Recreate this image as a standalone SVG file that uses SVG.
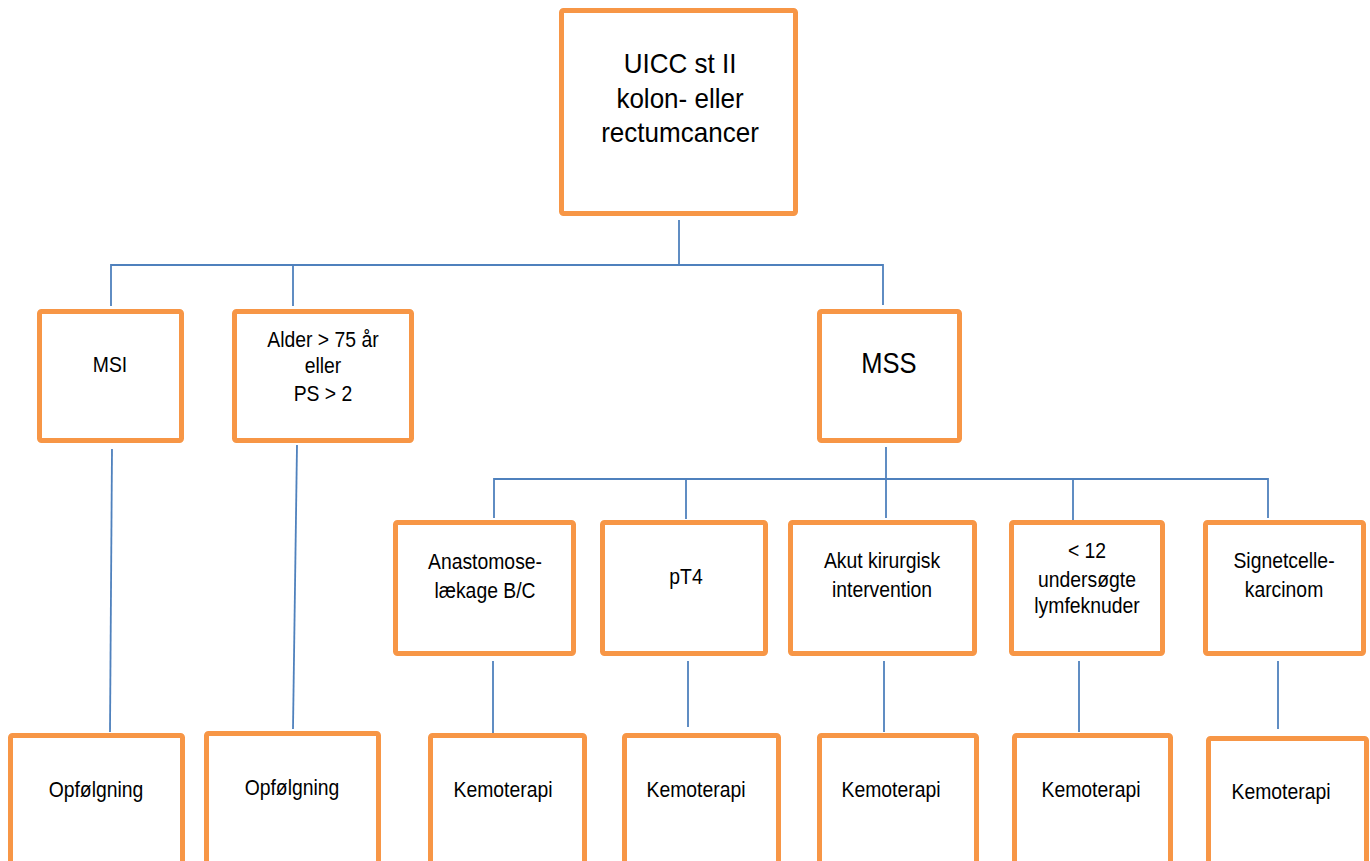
<svg xmlns="http://www.w3.org/2000/svg" width="1370" height="861" viewBox="0 0 1370 861">
<style>
.box{fill:#fff;stroke:#F79646;stroke-width:5;}
.t{font-family:"Liberation Sans",Arial,sans-serif;font-size:22px;fill:#000;text-anchor:middle;}
.big{font-size:28px;}
.c{stroke:#4F81BD;stroke-width:1.8;fill:none;}
</style>
<rect width="1370" height="861" fill="#fff"/>
<g id="connectors">
<line class="c" x1="679" y1="220" x2="679" y2="265"/>
<polyline class="c" points="111,306 111,265 883,265 883,305"/>
<line class="c" x1="293" y1="265" x2="293" y2="306"/>
<line class="c" x1="112" y1="449" x2="110" y2="732"/>
<line class="c" x1="297" y1="445" x2="293" y2="729"/>
<line class="c" x1="886" y1="447" x2="886" y2="518"/>
<polyline class="c" points="494,518 494,479 1268,479 1268,518"/>
<line class="c" x1="686" y1="479" x2="686" y2="519"/>
<line class="c" x1="1073" y1="479" x2="1073" y2="520"/>
<line class="c" x1="493" y1="661" x2="493" y2="733"/>
<line class="c" x1="688" y1="661" x2="688" y2="727"/>
<line class="c" x1="884" y1="661" x2="884" y2="732"/>
<line class="c" x1="1079" y1="661" x2="1079" y2="732"/>
<line class="c" x1="1278" y1="661" x2="1278" y2="729"/>
</g>
<g id="n-top"><rect class="box" x="561.5" y="10.5" width="234" height="203" rx="2"/>
<text class="t big" transform="translate(680 73) scale(0.93 1)">UICC st II</text><text class="t big" transform="translate(680 108) scale(0.93 1)">kolon- eller</text><text class="t big" transform="translate(680 142) scale(0.93 1)">rectumcancer</text></g>
<g id="n-msi"><rect class="box" x="39.5" y="311.5" width="142" height="129" rx="2"/>
<text class="t" transform="translate(110 372) scale(0.88 1)">MSI</text></g>
<g id="n-alder"><rect class="box" x="234.5" y="311.5" width="177" height="129" rx="2"/>
<text class="t" transform="translate(323 347) scale(0.88 1)">Alder &gt; 75 år</text><text class="t" transform="translate(323 373) scale(0.88 1)">eller</text><text class="t" transform="translate(323 401) scale(0.88 1)">PS &gt; 2</text></g>
<g id="n-mss"><rect class="box" x="819.5" y="311.5" width="140" height="129" rx="2"/>
<text class="t big" transform="translate(889 373) scale(0.88 1)" style="font-size:29px">MSS</text></g>
<g id="n-anast"><rect class="box" x="395.5" y="522.5" width="178" height="131" rx="2"/>
<text class="t" transform="translate(485 569) scale(0.88 1)">Anastomose-</text><text class="t" transform="translate(485 598) scale(0.88 1)">lækage B/C</text></g>
<g id="n-pt4"><rect class="box" x="602.5" y="522.5" width="163" height="131" rx="2"/>
<text class="t" transform="translate(686 584) scale(0.88 1)">pT4</text></g>
<g id="n-akut"><rect class="box" x="790.5" y="522.5" width="184" height="131" rx="2"/>
<text class="t" transform="translate(882 568) scale(0.88 1)">Akut kirurgisk</text><text class="t" transform="translate(882 597) scale(0.88 1)">intervention</text></g>
<g id="n-lymf"><rect class="box" x="1011.5" y="522.5" width="151" height="131" rx="2"/>
<text class="t" transform="translate(1087 558) scale(0.88 1)">&lt; 12</text><text class="t" transform="translate(1087 587) scale(0.88 1)">undersøgte</text><text class="t" transform="translate(1087 613) scale(0.88 1)">lymfeknuder</text></g>
<g id="n-signet"><rect class="box" x="1205.5" y="522.5" width="158" height="131" rx="2"/>
<text class="t" transform="translate(1284 568) scale(0.88 1)">Signetcelle-</text><text class="t" transform="translate(1284 597) scale(0.88 1)">karcinom</text></g>
<g id="n-opf1"><rect class="box" x="10.5" y="735.5" width="172" height="140" rx="2"/>
<text class="t" transform="translate(96 797) scale(0.88 1)">Opfølgning</text></g>
<g id="n-opf2"><rect class="box" x="206.5" y="733.5" width="172" height="140" rx="2"/>
<text class="t" transform="translate(292 795) scale(0.88 1)">Opfølgning</text></g>
<g id="n-kemo1"><rect class="box" x="430.5" y="735.5" width="154" height="140" rx="2"/>
<text class="t" transform="translate(503 797) scale(0.88 1)">Kemoterapi</text></g>
<g id="n-kemo2"><rect class="box" x="624.5" y="735.5" width="154" height="140" rx="2"/>
<text class="t" transform="translate(696 797) scale(0.88 1)">Kemoterapi</text></g>
<g id="n-kemo3"><rect class="box" x="819.5" y="735.5" width="157" height="140" rx="2"/>
<text class="t" transform="translate(891 797) scale(0.88 1)">Kemoterapi</text></g>
<g id="n-kemo4"><rect class="box" x="1014.5" y="735.5" width="156" height="140" rx="2"/>
<text class="t" transform="translate(1091 797) scale(0.88 1)">Kemoterapi</text></g>
<g id="n-kemo5"><rect class="box" x="1208.5" y="738.5" width="158" height="140" rx="2"/>
<text class="t" transform="translate(1281 799) scale(0.88 1)">Kemoterapi</text></g>
</svg>
